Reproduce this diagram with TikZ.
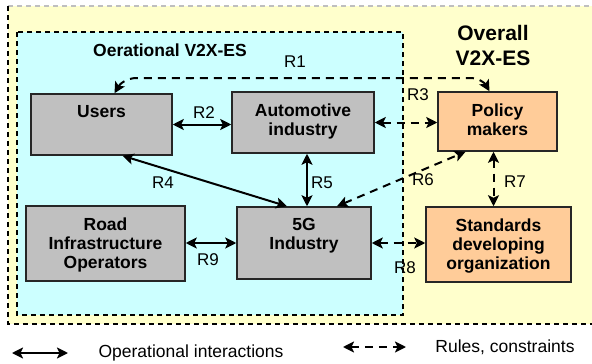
\documentclass[tikz,border=0pt]{standalone}
\usepackage{fontspec}
\setmainfont{Liberation Sans}
\usetikzlibrary{arrows.meta}
\definecolor{zoneY}{HTML}{FFFFCC}
\definecolor{zoneC}{HTML}{CCFFFF}
\definecolor{boxG}{HTML}{C0C0C0}
\definecolor{boxO}{HTML}{FFCC99}
\tikzset{
  box/.style={draw=black!85, line width=1.5pt, inner sep=0pt},
  gbox/.style={box, fill=boxG},
  obox/.style={box, fill=boxO},
  boxtext/.style={anchor=north, inner sep=0pt, yshift=-12pt, align=center,
    font=\bfseries\fontsize{17.5}{19}\selectfont},
  rlab/.style={inner sep=0pt, font=\fontsize{17}{19}\selectfont},
  tip/.style={-{Stealth[length=11pt,width=11pt,inset=2.5pt]}},
  opline/.style={line width=2pt, {Stealth[length=11pt,width=11pt,inset=2.5pt]}-{Stealth[length=11pt,width=11pt,inset=2.5pt]}},
  ruleline/.style={opline, dash pattern=on 8pt off 6pt},
  zoneedge/.style={line width=1.4pt, dash pattern=on 5pt off 4pt}
}
\begin{document}
\begin{tikzpicture}[x=1pt,y=-1pt]
\useasboundingbox (0,0) rectangle (592,364);
\fill[white] (0,0) rectangle (592,364);

% overall system zone
\fill[zoneY] (8,6) rectangle (592,324);
\draw[zoneedge, black!25] (8,6) -- (592,6);
\draw[zoneedge] (8,6) -- (8,324) -- (592,324);

% operational system zone
\fill[zoneC] (17,32) rectangle (403,315);
\draw[zoneedge] (17,32) rectangle (403,315);

\node[font=\bfseries\fontsize{17.5}{19}\selectfont] (optitle) at (170,50) {Oerational V2X-ES};
\node[align=center, font=\bfseries\fontsize{21}{25}\selectfont] (alltitle) at (493,45) {Overall\\V2X-ES};

% actors
\node[gbox, minimum width=141pt, minimum height=61pt,
  label={[boxtext]north:Users}] (users) at (101.5,124.5) {};
\node[gbox, minimum width=142pt, minimum height=61pt,
  label={[boxtext]north:Automotive\\industry}] (auto) at (303,122.5) {};
\node[obox, minimum width=119pt, minimum height=59pt,
  label={[boxtext]north:Policy\\makers}] (policy) at (497.5,121.5) {};
\node[gbox, minimum width=159pt, minimum height=75pt,
  label={[boxtext]north:Road\\Infrastructure\\Operators}] (road) at (105.5,243.5) {};
\node[gbox, minimum width=134pt, minimum height=72pt,
  label={[boxtext]north:5G\\Industry}] (fiveg) at (304,243) {};
\node[obox, minimum width=145pt, minimum height=75pt,
  label={[boxtext]north:Standards\\developing\\organization}] (sdo) at (498.5,244.5) {};

% relations
\coordinate (r1a) at (137,78);
\coordinate (r1b) at (470,78);
\draw[ruleline] ([xshift=13pt]users.north) to[out=60,in=180] (r1a) -- (r1b)
  to[out=0,in=120] ([xshift=-8pt]policy.north);
\draw[opline] (users.east) -- (users.east -| auto.west);
\draw[ruleline] (auto.east) -- (auto.east -| policy.west);
\draw[opline] ([xshift=21pt]users.south) -- ([xshift=-17pt]fiveg.north);
\draw[opline] ([xshift=4pt]auto.south) -- ([xshift=3pt]fiveg.north);
\draw[ruleline] ([xshift=33pt]fiveg.north) -- ([xshift=-32pt]policy.south);
\draw[ruleline] ([xshift=-4pt]policy.south) -- ([xshift=-5pt]sdo.north);
\draw[ruleline] (fiveg.east) -- (fiveg.east -| sdo.west);
\draw[opline] (road.east |- fiveg.west) -- (fiveg.west);

\node[rlab] (l1) at (295,62) {R1};
\node[rlab] (l2) at (204,113) {R2};
\node[rlab] (l3) at (418,95) {R3};
\node[rlab] (l4) at (163,183) {R4};
\node[rlab] (l5) at (322,183) {R5};
\node[rlab] (l6) at (423,180) {R6};
\node[rlab] (l7) at (515,182) {R7};
\node[rlab] (l8) at (405,268) {R8};
\node[rlab] (l9) at (208,260) {R9};

% legend
\coordinate (k1a) at (12,353);
\coordinate (k1b) at (68,353);
\coordinate (k2a) at (343,347);
\coordinate (k2b) at (406,347);
\draw[opline] (k1a) -- (k1b);
\draw[ruleline] (k2a) -- (k2b);
\node[rlab, font=\fontsize{17.5}{19}\selectfont] (k1t) at (191,353) {Operational interactions};
\node[rlab, font=\fontsize{17.5}{19}\selectfont] (k2t) at (505,347) {Rules, constraints};
\end{tikzpicture}
\end{document}
